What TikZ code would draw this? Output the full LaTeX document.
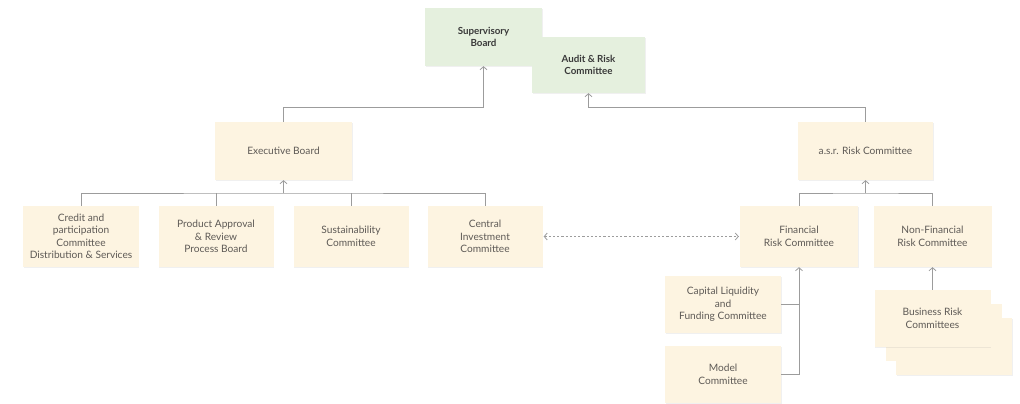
\documentclass[tikz,border=0pt]{standalone}
\usepackage{fontspec}
\setmainfont{Lato}
\usetikzlibrary{arrows.meta,shadows}
\definecolor{greenbox}{HTML}{E5F0DE}
\definecolor{creambox}{HTML}{FDF4E1}
\definecolor{linegray}{HTML}{9C9C9C}
\definecolor{textgray}{HTML}{5E5A56}
\definecolor{textdark}{HTML}{3A3A3A}
\tikzset{
  box/.style={fill=creambox, draw=none, align=center, inner sep=0pt,
    text=textgray, font=\fontsize{10.2}{12.5}\selectfont,
    drop shadow={opacity=0.12, shadow xshift=0.8bp, shadow yshift=-0.8bp}},
  gbox/.style={box, fill=greenbox, text=textdark, font=\fontsize{9.8}{12.5}\selectfont\bfseries},
  conn/.style={draw=linegray, line width=0.9bp},
  arr/.style={conn, -{Straight Barb[length=3bp,width=7bp,line width=0.8bp]}},
  darr/.style={conn, dash pattern=on 2.2bp off 2bp,
    {Straight Barb[length=3bp,width=7bp,line width=0.8bp]}-{Straight Barb[length=3bp,width=7bp,line width=0.8bp]}}
}
\begin{document}
\begin{tikzpicture}[x=1bp,y=-1bp]
\useasboundingbox (0,0) rectangle (1020,403);
% top
\node[gbox, minimum width=117bp, minimum height=58bp] (sup) at (483.5,37) {Supervisory\\Board};
\node[gbox, minimum width=113bp, minimum height=56bp] (audit) at (588.5,65) {Audit \& Risk\\Committee};
% second level
\node[box, minimum width=137bp, minimum height=58bp] (exec) at (283.5,151) {Executive Board};
\node[box, minimum width=135bp, minimum height=58bp] (asr) at (865.5,151) {a.s.r. Risk Committee};
% third level
\node[box, minimum width=115bp, minimum height=61bp] (credit) at (81,236.5) {Credit and\\participation\\Committee\\Distribution \& Services};
\node[box, minimum width=115bp, minimum height=61bp] (product) at (216,236.5) {Product Approval\\\& Review\\Process Board};
\node[box, minimum width=115bp, minimum height=61bp] (sustain) at (351,236.5) {Sustainability\\Committee};
\node[box, minimum width=115bp, minimum height=61bp] (central) at (485,236.5) {Central\\Investment\\Committee};
\node[box, minimum width=118bp, minimum height=61bp] (fin) at (799,236.5) {Financial\\Risk Committee};
\node[box, minimum width=118bp, minimum height=61bp] (nonfin) at (932.5,236.5) {Non-Financial\\Risk Committee};
% fourth level
\node[box, minimum width=116bp, minimum height=57bp] (cap) at (723,304.5) {Capital Liquidity\\and\\Funding Committee};
\node[box, minimum width=116bp, minimum height=57bp] (model) at (723,374.5) {Model\\Committee};
\node[box, minimum width=116bp, minimum height=57bp] (biz3) at (954,346.5) {};
\node[box, minimum width=116bp, minimum height=57bp] (biz2) at (943.5,332) {};
\node[box, minimum width=116bp, minimum height=57bp] (biz1) at (932.5,318.5) {Business Risk\\Committees};
% connectors
\coordinate (topbus) at (0,107);
\draw[arr] (exec.north) |- (topbus -| sup.south) -- (sup.south);
\draw[arr] (asr.north) |- (topbus -| audit.south) -- (audit.south);
\coordinate (lbus) at (283.5,193);
\draw[conn] (credit.north) |- (lbus) -| (central.north);
\draw[conn] (product.north) -- (product.north |- lbus);
\draw[conn] (sustain.north) -- (sustain.north |- lbus);
\draw[arr] (lbus) -- (exec.south);
\coordinate (rbus) at (865.5,193);
\draw[conn] (fin.north) |- (rbus) -| (nonfin.north);
\draw[arr] (rbus) -- (asr.south);
\coordinate (fbot) at (fin.south |- model.east);
\draw[conn] (model.east) -- (fbot);
\draw[conn] (cap.east) -- (cap.east -| fin.south);
\draw[arr] (fbot) -- (fin.south);
\draw[arr] (biz1.north) -- (nonfin.south);
\draw[darr] ([xshift=1bp]central.east) -- ([xshift=-1bp]fin.west);
\end{tikzpicture}
\end{document}
